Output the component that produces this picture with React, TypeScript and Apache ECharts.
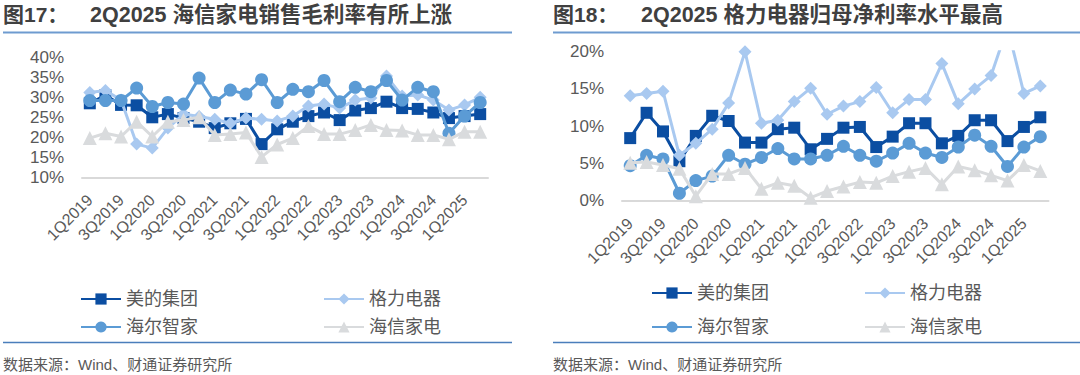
import React, { useEffect, useRef } from "react";
import * as echarts from "echarts";

const categories = [
  "1Q2019", "2Q2019", "3Q2019", "4Q2019",
  "1Q2020", "2Q2020", "3Q2020", "4Q2020",
  "1Q2021", "2Q2021", "3Q2021", "4Q2021",
  "1Q2022", "2Q2022", "3Q2022", "4Q2022",
  "1Q2023", "2Q2023", "3Q2023", "4Q2023",
  "1Q2024", "2Q2024", "3Q2024", "4Q2024",
  "1Q2025", "2Q2025",
];

const seriesNames = ["美的集团", "格力电器", "海尔智家", "海信家电"];

// Fig.17 gross margin (%)
const gmMidea = [28.5, 30.5, 28.1, 28.0, 25.0, 25.8, 24.8, 23.9, 22.3, 23.5, 24.6, 18.3, 22.0, 23.9, 25.3, 26.2, 24.3, 26.7, 27.3, 28.9, 27.3, 27.1, 26.2, 24.8, 25.3, 25.8];
const gmGree = [31.2, 31.7, 29.3, 18.3, 17.3, 22.3, 25.8, 25.2, 24.5, 23.5, 24.8, 24.5, 24.1, 25.3, 27.8, 28.3, 27.3, 29.3, 29.8, 35.3, 30.3, 30.6, 29.3, 26.8, 28.1, 30.0];
const gmHaier = [29.2, 29.2, 29.2, 32.3, 27.7, 28.7, 28.3, 34.8, 28.7, 31.8, 30.8, 34.4, 28.7, 32.0, 31.4, 34.2, 28.9, 32.5, 31.4, 34.2, 29.3, 32.5, 31.4, 21.0, 25.3, 28.7];
const gmHisense = [19.8, 21.0, 20.2, 23.9, 20.2, 23.9, 24.3, 25.0, 20.6, 20.8, 21.2, 15.1, 18.2, 19.8, 22.8, 20.8, 20.8, 21.8, 23.1, 21.8, 21.7, 20.6, 20.6, 19.5, 21.4, 21.4];

// Fig.18 net margin attributable to parent (%)
const nmMidea = [8.4, 11.8, 9.3, 5.3, 8.7, 11.4, 10.7, 7.8, 7.8, 9.6, 9.8, 6.9, 8.3, 9.8, 9.9, 7.2, 8.6, 10.4, 10.4, 7.7, 8.7, 10.8, 10.8, 8.0, 9.9, 11.2];
const nmGree = [14.1, 14.4, 14.7, 6.1, 7.7, 9.6, 13.1, 20.0, 10.4, 10.8, 13.3, 15.1, 11.6, 12.7, 13.3, 15.2, 11.8, 13.6, 13.6, 18.4, 13.0, 15.0, 16.8, 23.3, 14.4, 15.4];
const nmHaier = [4.7, 6.1, 5.6, 1.0, 2.7, 3.3, 6.1, 4.9, 5.8, 7.0, 5.6, 5.6, 6.1, 7.3, 6.1, 5.3, 6.4, 7.7, 6.4, 5.8, 7.2, 8.8, 7.3, 4.6, 7.2, 8.6];
const nmHisense = [5.1, 5.2, 4.8, 4.3, 0.6, 3.6, 3.6, 4.4, 1.6, 2.4, 2.0, 0.4, 1.3, 1.9, 2.5, 2.4, 3.3, 3.9, 4.4, 2.2, 4.6, 4.1, 3.4, 2.7, 4.8, 4.0];

const leftTicks = { min: 10, max: 40, interval: 5 };
const rightTicks = { min: 0, max: 20, interval: 5 };

const colors = ["#0B4EA2", "#A9C9F0", "#5B9BD5", "#D9DBDD"];
const symbols = ["rect", "diamond", "circle", "triangle"];
const symbolSizes = [12, 13, 13, 14];

const FONT = "'Liberation Sans', 'Noto Sans CJK SC', sans-serif";
const TEXT_GRAY = "#595959";

export default function App() {
  const ref = useRef<HTMLDivElement>(null);

  useEffect(() => {
    if (!ref.current) return;
    const chart = echarts.init(ref.current, undefined, { renderer: "svg" });

    const makeSeries = (data: number[][], axisIndex: number) =>
      data.map((d, i) => ({
        name: seriesNames[i],
        type: "line",
        xAxisIndex: axisIndex,
        yAxisIndex: axisIndex,
        data: d,
        symbol: symbols[i],
        symbolSize: symbolSizes[i],
        showSymbol: true,
        showAllSymbol: true,
        clip: true,
        lineStyle: { color: colors[i], width: 3 },
        itemStyle: { color: colors[i] },
        z: 2 + i,
      }));

    const xAxisCommon = {
      type: "category",
      data: categories,
      boundaryGap: true,
      axisLine: { show: true, lineStyle: { color: "#D9D9D9", width: 2 } },
      axisTick: { show: false },
      axisLabel: {
        interval: 1,
        rotate: 45,
        margin: 20,
        fontSize: 16,
        color: TEXT_GRAY,
        fontFamily: FONT,
      },
      splitLine: { show: false },
    };

    const yAxisCommon = {
      type: "value",
      axisLine: { show: false },
      axisTick: { show: false },
      splitLine: { show: false },
      axisLabel: {
        formatter: "{value}%",
        fontSize: 17,
        color: TEXT_GRAY,
        fontFamily: FONT,
        margin: 18,
      },
    };

    const legendItem = (name: string, left: number, top: number) => ({
      show: true,
      left,
      top,
      padding: 0,
      itemWidth: 40,
      itemHeight: 14,
      data: [name],
      textStyle: { fontSize: 18, color: TEXT_GRAY, fontFamily: FONT },
    });

    const option: any = {
      animation: false,
      backgroundColor: "#ffffff",
      grid: [
        { left: 82, top: 57.3, width: 406, height: 120, containLabel: false, outerBoundsMode: "none" },
        { left: 622, top: 51.7, width: 426.5, height: 149, containLabel: false, outerBoundsMode: "none" },
      ],
      xAxis: [
        { ...xAxisCommon, gridIndex: 0 },
        { ...xAxisCommon, gridIndex: 1 },
      ],
      yAxis: [
        { ...yAxisCommon, gridIndex: 0, ...leftTicks },
        { ...yAxisCommon, gridIndex: 1, ...rightTicks },
      ],
      legend: [
        legendItem(seriesNames[0], 80, 290),
        legendItem(seriesNames[1], 323, 290),
        legendItem(seriesNames[2], 80, 318),
        legendItem(seriesNames[3], 323, 318),
        legendItem(seriesNames[0], 651, 284),
        legendItem(seriesNames[1], 864, 284),
        legendItem(seriesNames[2], 651, 318),
        legendItem(seriesNames[3], 864, 318),
      ],
      series: [
        ...makeSeries([gmMidea, gmGree, gmHaier, gmHisense], 0),
        ...makeSeries([nmMidea, nmGree, nmHaier, nmHisense], 1),
      ],
      graphic: [
        {
          type: "text", left: 3, top: 4,
          style: { text: "图17：", fontSize: 21, fontWeight: "bold", fill: "#404040", fontFamily: FONT },
        },
        {
          type: "text", left: 90, top: 4,
          style: { text: "2Q2025 海信家电销售毛利率有所上涨", fontSize: 21.5, fontWeight: "bold", fill: "#404040", fontFamily: FONT },
        },
        {
          type: "text", left: 553, top: 4,
          style: { text: "图18：", fontSize: 21, fontWeight: "bold", fill: "#404040", fontFamily: FONT },
        },
        {
          type: "text", left: 641, top: 4,
          style: { text: "2Q2025 格力电器归母净利率水平最高", fontSize: 21.5, fontWeight: "bold", fill: "#404040", fontFamily: FONT },
        },
        {
          type: "line", shape: { x1: 3, y1: 32.5, x2: 512, y2: 32.5 },
          style: { stroke: "#6E9BD0", lineWidth: 2 },
        },
        {
          type: "line", shape: { x1: 553, y1: 32.5, x2: 1080, y2: 32.5 },
          style: { stroke: "#6E9BD0", lineWidth: 2 },
        },
        {
          type: "line", shape: { x1: 3, y1: 342.5, x2: 512, y2: 342.5 },
          style: { stroke: "#4A7EBB", lineWidth: 1.5 },
        },
        {
          type: "line", shape: { x1: 553, y1: 342.5, x2: 1080, y2: 342.5 },
          style: { stroke: "#4A7EBB", lineWidth: 1.5 },
        },
        {
          type: "text", left: 3, top: 357,
          style: { text: "数据来源：Wind、财通证券研究所", fontSize: 15, fill: TEXT_GRAY, fontFamily: FONT },
        },
        {
          type: "text", left: 553, top: 357,
          style: { text: "数据来源：Wind、财通证券研究所", fontSize: 15, fill: TEXT_GRAY, fontFamily: FONT },
        },
      ],
    };

    chart.setOption(option);
    return () => {
      chart.dispose();
    };
  }, []);

  return (
    <div
      ref={ref}
      style={{ position: "fixed", left: 0, top: 0, width: 1080, height: 375, background: "#fff" }}
    />
  );
}
